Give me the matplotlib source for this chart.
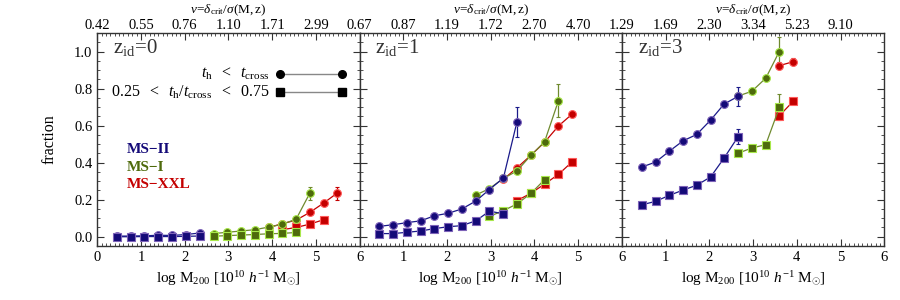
import matplotlib
matplotlib.use("Agg")
import matplotlib.pyplot as plt
from matplotlib.ticker import MultipleLocator, NullFormatter

plt.rcParams['font.family'] = ['Liberation Serif', 'DejaVu Serif']
plt.rcParams['mathtext.fontset'] = 'custom'
plt.rcParams['mathtext.rm'] = 'Liberation Serif'
plt.rcParams['mathtext.it'] = 'Liberation Serif:italic'
plt.rcParams['mathtext.bf'] = 'Liberation Serif:bold'

# ---------------- data ----------------
panel_names = ["0", "1", "3"]
nu_labels = [
    ["0.42", "0.55", "0.76", "1.10", "1.71", "2.99"],
    ["0.67", "0.87", "1.19", "1.72", "2.70", "4.70"],
    ["1.29", "1.69", "2.30", "3.34", "5.23", "9.10"],
]
sims = ["MS-II", "MS-I", "MS-XXL"]

# z=0
z0_msii_c_x = [0.45, 0.77, 1.08, 1.40, 1.71, 2.03, 2.34]
z0_msii_c_y = [0.003, 0.004, 0.005, 0.008, 0.007, 0.012, 0.020]
z0_msii_c_e = [0, 0, 0, 0, 0, 0, 0.004]
z0_msii_s_x = [0.45, 0.77, 1.08, 1.40, 1.71, 2.03, 2.34]
z0_msii_s_y = [0.000, 0.000, 0.001, 0.001, 0.001, 0.002, 0.004]
z0_msii_s_e = [0, 0, 0, 0, 0, 0, 0]
z0_msi_c_x = [2.66, 2.97, 3.29, 3.60, 3.92, 4.23, 4.55, 4.86]
z0_msi_c_y = [0.017, 0.024, 0.031, 0.038, 0.052, 0.067, 0.095, 0.234]
z0_msi_c_e = [0, 0, 0, 0, 0.004, 0.006, 0.010, 0.035]
z0_msi_s_x = [2.66, 2.97, 3.29, 3.60, 3.92, 4.23, 4.55]
z0_msi_s_y = [0.003, 0.006, 0.009, 0.012, 0.016, 0.018, 0.023]
z0_msi_s_e = [0, 0, 0, 0, 0, 0, 0.004]
z0_xxl_c_x = [3.92, 4.23, 4.55, 4.86, 5.18, 5.49]
z0_xxl_c_y = [0.050, 0.070, 0.090, 0.131, 0.182, 0.236]
z0_xxl_c_e = [0, 0, 0, 0.006, 0.012, 0.035]
z0_xxl_s_x = [4.23, 4.55, 4.86, 5.18]
z0_xxl_s_y = [0.038, 0.050, 0.068, 0.092]
z0_xxl_s_e = [0, 0, 0, 0.006]

# z=1
z1_msii_c_x = [0.45, 0.77, 1.08, 1.40, 1.71, 2.03, 2.34, 2.66, 2.97, 3.29, 3.60]
z1_msii_c_y = [0.056, 0.065, 0.076, 0.086, 0.113, 0.127, 0.150, 0.193, 0.255, 0.317, 0.620]
z1_msii_c_e = [0, 0, 0, 0, 0, 0, 0, 0, 0.006, 0.012, 0.082]
z1_msii_s_x = [0.45, 0.77, 1.08, 1.40, 1.71, 2.03, 2.34, 2.66, 2.97, 3.29]
z1_msii_s_y = [0.017, 0.017, 0.024, 0.031, 0.044, 0.054, 0.060, 0.086, 0.138, 0.124]
z1_msii_s_e = [0, 0, 0, 0, 0, 0, 0, 0, 0, 0.010]
z1_msi_c_x = [2.66, 2.97, 3.29, 3.60, 3.92, 4.23, 4.55]
z1_msi_c_y = [0.225, 0.260, 0.315, 0.355, 0.440, 0.512, 0.735]
z1_msi_c_e = [0, 0, 0, 0, 0, 0.010, 0.088]
z1_msi_s_x = [2.97, 3.29, 3.60, 3.92, 4.23]
z1_msi_s_y = [0.110, 0.141, 0.177, 0.234, 0.308]
z1_msi_s_e = [0, 0, 0, 0, 0.010]
z1_xxl_c_x = [3.29, 3.60, 3.92, 4.23, 4.55, 4.86]
z1_xxl_c_y = [0.310, 0.372, 0.440, 0.510, 0.598, 0.662]
z1_xxl_c_e = [0, 0, 0, 0, 0, 0.006]
z1_xxl_s_x = [3.60, 3.92, 4.23, 4.55, 4.86]
z1_xxl_s_y = [0.195, 0.235, 0.284, 0.337, 0.404]
z1_xxl_s_e = [0, 0, 0, 0, 0]

# z=3
z3_msii_c_x = [0.45, 0.77, 1.08, 1.40, 1.71, 2.03, 2.34, 2.66]
z3_msii_c_y = [0.376, 0.403, 0.461, 0.518, 0.552, 0.630, 0.717, 0.758]
z3_msii_c_e = [0, 0, 0, 0, 0, 0, 0.015, 0.052]
z3_msii_s_x = [0.45, 0.77, 1.08, 1.40, 1.71, 2.03, 2.34, 2.66]
z3_msii_s_y = [0.172, 0.191, 0.223, 0.252, 0.278, 0.323, 0.426, 0.541]
z3_msii_s_e = [0, 0, 0, 0, 0, 0, 0, 0.040]
z3_msi_c_x = [2.66, 2.97, 3.29, 3.60]
z3_msi_c_y = [0.760, 0.785, 0.856, 1.000]
z3_msi_c_e = [0, 0, 0, 0.080]
z3_msi_s_x = [2.66, 2.97, 3.29, 3.60]
z3_msi_s_y = [0.451, 0.479, 0.497, 0.698]
z3_msi_s_e = [0, 0, 0, 0.070]
z3_xxl_c_x = [3.60, 3.92]
z3_xxl_c_y = [0.924, 0.945]
z3_xxl_c_e = [0.018, 0.020]
z3_xxl_s_x = [3.60, 3.92]
z3_xxl_s_y = [0.653, 0.732]
z3_xxl_s_e = [0.012, 0.012]

panels = [
    {"MS-XXL": ((z0_xxl_c_x, z0_xxl_c_y, z0_xxl_c_e), (z0_xxl_s_x, z0_xxl_s_y, z0_xxl_s_e)),
     "MS-I": ((z0_msi_c_x, z0_msi_c_y, z0_msi_c_e), (z0_msi_s_x, z0_msi_s_y, z0_msi_s_e)),
     "MS-II": ((z0_msii_c_x, z0_msii_c_y, z0_msii_c_e), (z0_msii_s_x, z0_msii_s_y, z0_msii_s_e))},
    {"MS-XXL": ((z1_xxl_c_x, z1_xxl_c_y, z1_xxl_c_e), (z1_xxl_s_x, z1_xxl_s_y, z1_xxl_s_e)),
     "MS-I": ((z1_msi_c_x, z1_msi_c_y, z1_msi_c_e), (z1_msi_s_x, z1_msi_s_y, z1_msi_s_e)),
     "MS-II": ((z1_msii_c_x, z1_msii_c_y, z1_msii_c_e), (z1_msii_s_x, z1_msii_s_y, z1_msii_s_e))},
    {"MS-XXL": ((z3_xxl_c_x, z3_xxl_c_y, z3_xxl_c_e), (z3_xxl_s_x, z3_xxl_s_y, z3_xxl_s_e)),
     "MS-I": ((z3_msi_c_x, z3_msi_c_y, z3_msi_c_e), (z3_msi_s_x, z3_msi_s_y, z3_msi_s_e)),
     "MS-II": ((z3_msii_c_x, z3_msii_c_y, z3_msii_c_e), (z3_msii_s_x, z3_msii_s_y, z3_msii_s_e))},
]

styles = {
    "MS-II": dict(face="#140a78", edge="#7d62b8", line="#1a1a8a", text="#140a78"),
    "MS-I": dict(face="#4e6a0c", edge="#a8e84a", line="#6f8a2e", text="#4e6a0c"),
    "MS-XXL": dict(face="#c40000", edge="#ff5a5a", line="#c40000", text="#c40000"),
}

# ---------------- figure ----------------
fig = plt.figure(figsize=(9, 3), dpi=100)
left0, width, bottom, height = 0.108, 0.2915, 0.18, 0.71
frame_col = "#333333"

for p in range(3):
    ax = fig.add_axes([left0 + p * width, bottom, width, height])
    ax.set_xlim(0, 6)
    ax.set_ylim(-0.05, 1.1)
    for name in ["MS-XXL", "MS-I", "MS-II"]:
        st = styles[name]
        for (xs, ys, es), mk in zip(panels[p][name], ["o", "s"]):
            ax.errorbar(xs, ys, yerr=es, fmt="-", color=st["line"], lw=0.9,
                        elinewidth=0.9, capsize=1.5, capthick=0.8,
                        marker=mk, ms=5.6 if mk == "o" else 5.2,
                        mfc=st["face"], mec=st["edge"], mew=0.8, zorder=3)
    # ticks
    ax.xaxis.set_major_locator(MultipleLocator(1))
    ax.xaxis.set_minor_locator(MultipleLocator(0.1))
    ax.yaxis.set_major_locator(MultipleLocator(0.2))
    ax.yaxis.set_minor_locator(MultipleLocator(0.05))
    ax.tick_params(which="both", direction="in", right=True, top=False,
                   color=frame_col, labelsize=10.5)
    ax.tick_params(which="major", length=5, width=0.8)
    ax.tick_params(which="minor", length=2.5, width=0.6)
    for s in ax.spines.values():
        s.set_color(frame_col)
        s.set_linewidth(1.0)
    if p == 0:
        ax.set_xticks([0, 1, 2, 3, 4, 5, 6])
        ax.set_yticklabels([f"{v:.1f}" for v in ax.get_yticks()])
        ax.set_ylabel("fraction", fontsize=11.5, labelpad=12)
    else:
        ax.set_xticks([1, 2, 3, 4, 5, 6])
        ax.yaxis.set_major_formatter(NullFormatter())
    ax.set_xlabel(r"log M$_{\mathrm{200}}$ [10$^{10}$ $h^{-1}$ M$_{\odot}$]",
                  fontsize=11, labelpad=4)
    ax.text(0.36, 1.02, r"z$_{\mathrm{id}}$=" + panel_names[p], fontsize=15,
            color="#333333", va="center", ha="left")

    top = ax.twiny()
    top.set_xlim(0, 6)
    top.set_xticks([0, 1, 2, 3, 4, 5])
    top.set_xticklabels(nu_labels[p])
    top.xaxis.set_minor_locator(MultipleLocator(0.1))
    top.tick_params(which="both", direction="in", color=frame_col, labelsize=10.5, pad=1.0)
    top.tick_params(which="major", length=5, width=0.8)
    top.tick_params(which="minor", length=2.5, width=0.6)
    for s in top.spines.values():
        s.set_visible(False)
    # nu label placed just above the top tick labels
    fig.text(left0 + p * width + width / 2, 1 - 17.5 / 300,
             r"$\nu\!=\!\delta_{\mathrm{crit}}/\sigma(\mathrm{M,z})$",
             fontsize=9.5, ha="center", va="bottom")

    if p == 0:
        # marker legend
        ax.plot([4.18, 5.61], [0.879, 0.879], "-", color="#888888", lw=1.0,
                marker="o", ms=5.5, mfc="black", mec="black")
        ax.plot([4.18, 5.61], [0.781, 0.781], "-", color="#888888", lw=1.0,
                marker="s", ms=5.5, mfc="black", mec="black")
        ax.text(3.95, 0.879, r"$t_{\mathrm{h}}\ \ <\ \ t_{\mathrm{cross}}$",
                ha="right", va="center", fontsize=11.5)
        ax.text(3.95, 0.781, r"0.25 $\ <\ $ $t_{\mathrm{h}}/t_{\mathrm{cross}}$ $\ <\ $ 0.75",
                ha="right", va="center", fontsize=11.5)
        for i, name in enumerate(sims):
            ax.text(0.68, 0.47 - i * 0.094, name.replace("-", "\u2212"),
                    color=styles[name]["text"], fontsize=11,
                    fontweight="bold", ha="left", va="center")

fig.savefig("out.png", dpi=100)
